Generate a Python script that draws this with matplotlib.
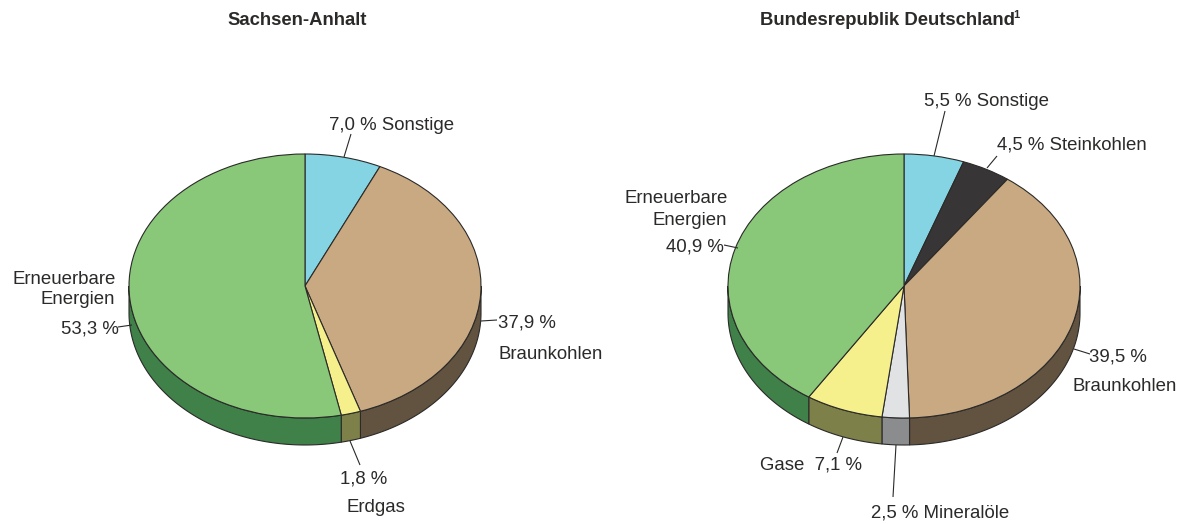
import numpy as np
import matplotlib
matplotlib.use("Agg")
import matplotlib.pyplot as plt

plt.rcParams['font.family'] = ['Liberation Sans', 'DejaVu Sans']

W, H = 1185, 524
TXT = '#2b2a29'
LINE = '#2b2a29'

# clockwise from 12 o'clock
st_names = ['Sonstige', 'Braunkohlen', 'Erdgas', 'Erneuerbare Energien']
st_values = [7.0, 37.9, 1.8, 53.3]
st_top = ['#85d4e3', '#c9a981', '#f5f08b', '#89c879']
st_side = ['#4f8f9c', '#625340', '#7d8048', '#3f8149']

de_names = ['Sonstige', 'Steinkohlen', 'Braunkohlen', 'Mineralöle', 'Gase', 'Erneuerbare Energien']
de_values = [5.5, 4.5, 39.5, 2.5, 7.1, 40.9]
de_top = ['#85d4e3', '#373535', '#c9a981', '#e1e2e3', '#f5f08b', '#89c879']
de_side = ['#4f8f9c', '#222222', '#625340', '#8b8c8e', '#7d8048', '#3f8149']

RX, RY, DEPTH = 176, 132, 27
CY = 286


def pct(v):
    return f'{v:.1f} %'.replace('.', ',')


def draw_pie(fig, cx, values, top, side):
    ax = fig.add_axes([(cx - RX) / W, 1 - (CY + RY) / H, 2 * RX / W, 2 * RY / H])
    ax.pie(values, colors=top, startangle=90, counterclock=False, radius=1,
           wedgeprops={'edgecolor': LINE, 'linewidth': 0.8, 'clip_on': False, 'zorder': 3})
    ax.set_aspect('auto')
    ax.set_xlim(-1, 1)
    ax.set_ylim(-1, 1)

    # side wall of the disc, only the part facing the viewer
    d = DEPTH / RY
    start = 90.0
    for v, c in zip(values, side):
        end = start - v * 3.6
        a0, a1 = max(end, -180.0), min(start, 0.0)
        if a1 > a0:
            th = np.radians(np.linspace(a0, a1, 80))
            x = np.cos(th)
            y = np.sin(th)
            ax.fill(np.r_[x, x[::-1]], np.r_[y, y[::-1] - d], facecolor=c,
                    edgecolor=LINE, linewidth=0.8, clip_on=False, zorder=2)
        start = end
    return ax


fig = plt.figure(figsize=(W / 100, H / 100), dpi=100, facecolor='white')

draw_pie(fig, 305, st_values, st_top, st_side)
draw_pie(fig, 904, de_values, de_top, de_side)

# overlay in pixel coordinates for labels and leader lines
ov = fig.add_axes([0, 0, 1, 1], zorder=5)
ov.set_xlim(0, W)
ov.set_ylim(H, 0)
ov.axis('off')


def label(x, y, s, **kw):
    ov.text(x, y + 1.5, s, fontsize=13.4, color=TXT, va='center', ha='left', **kw)


def leader(x0, y0, x1, y1):
    ov.plot([x0, x1], [y0, y1], color=LINE, lw=0.8, solid_capstyle='butt')


ov.text(297.5, 20.5, 'Sachsen-Anhalt', fontsize=13.3, fontweight='bold', color=TXT, ha='center', va='center')
ov.text(760, 20.5, 'Bundesrepublik Deutschland', fontsize=13.3, fontweight='bold', color=TXT, ha='left', va='center')
ov.text(1013.5, 15, '1', fontsize=8, fontweight='bold', color=TXT, ha='left', va='center')

# Sachsen-Anhalt
label(329, 124, pct(st_values[0]) + ' ' + st_names[0])
leader(344, 157, 351, 134)
label(498, 322, pct(st_values[1]))
label(498, 353, st_names[1])
leader(481, 321, 497, 320)
label(340, 477, pct(st_values[2]))
label(347, 506, st_names[2])
leader(350, 441, 360, 465)
label(12, 278, 'Erneuerbare')
label(41, 298, 'Energien')
label(61, 328, pct(st_values[3]))
leader(118, 327, 132, 325)

# Bundesrepublik
label(924, 100, pct(de_values[0]) + ' ' + de_names[0])
leader(934, 156, 945, 111)
label(997, 144, pct(de_values[1]) + ' ' + de_names[1])
leader(987, 168, 997, 156)
label(1089, 355, pct(de_values[2]))
label(1073, 385, de_names[2])
leader(1074, 349, 1090, 354)
label(871, 511, pct(de_values[3]) + ' ' + de_names[3])
leader(896, 445, 893, 497)
label(760, 463, de_names[4] + '  ' + pct(de_values[4]))
leader(843, 437, 837, 453)
label(624, 197, 'Erneuerbare')
label(652, 219, 'Energien')
label(666, 246, pct(de_values[5]))
leader(724, 245, 738, 248)

fig.savefig('out.png', dpi=100)
